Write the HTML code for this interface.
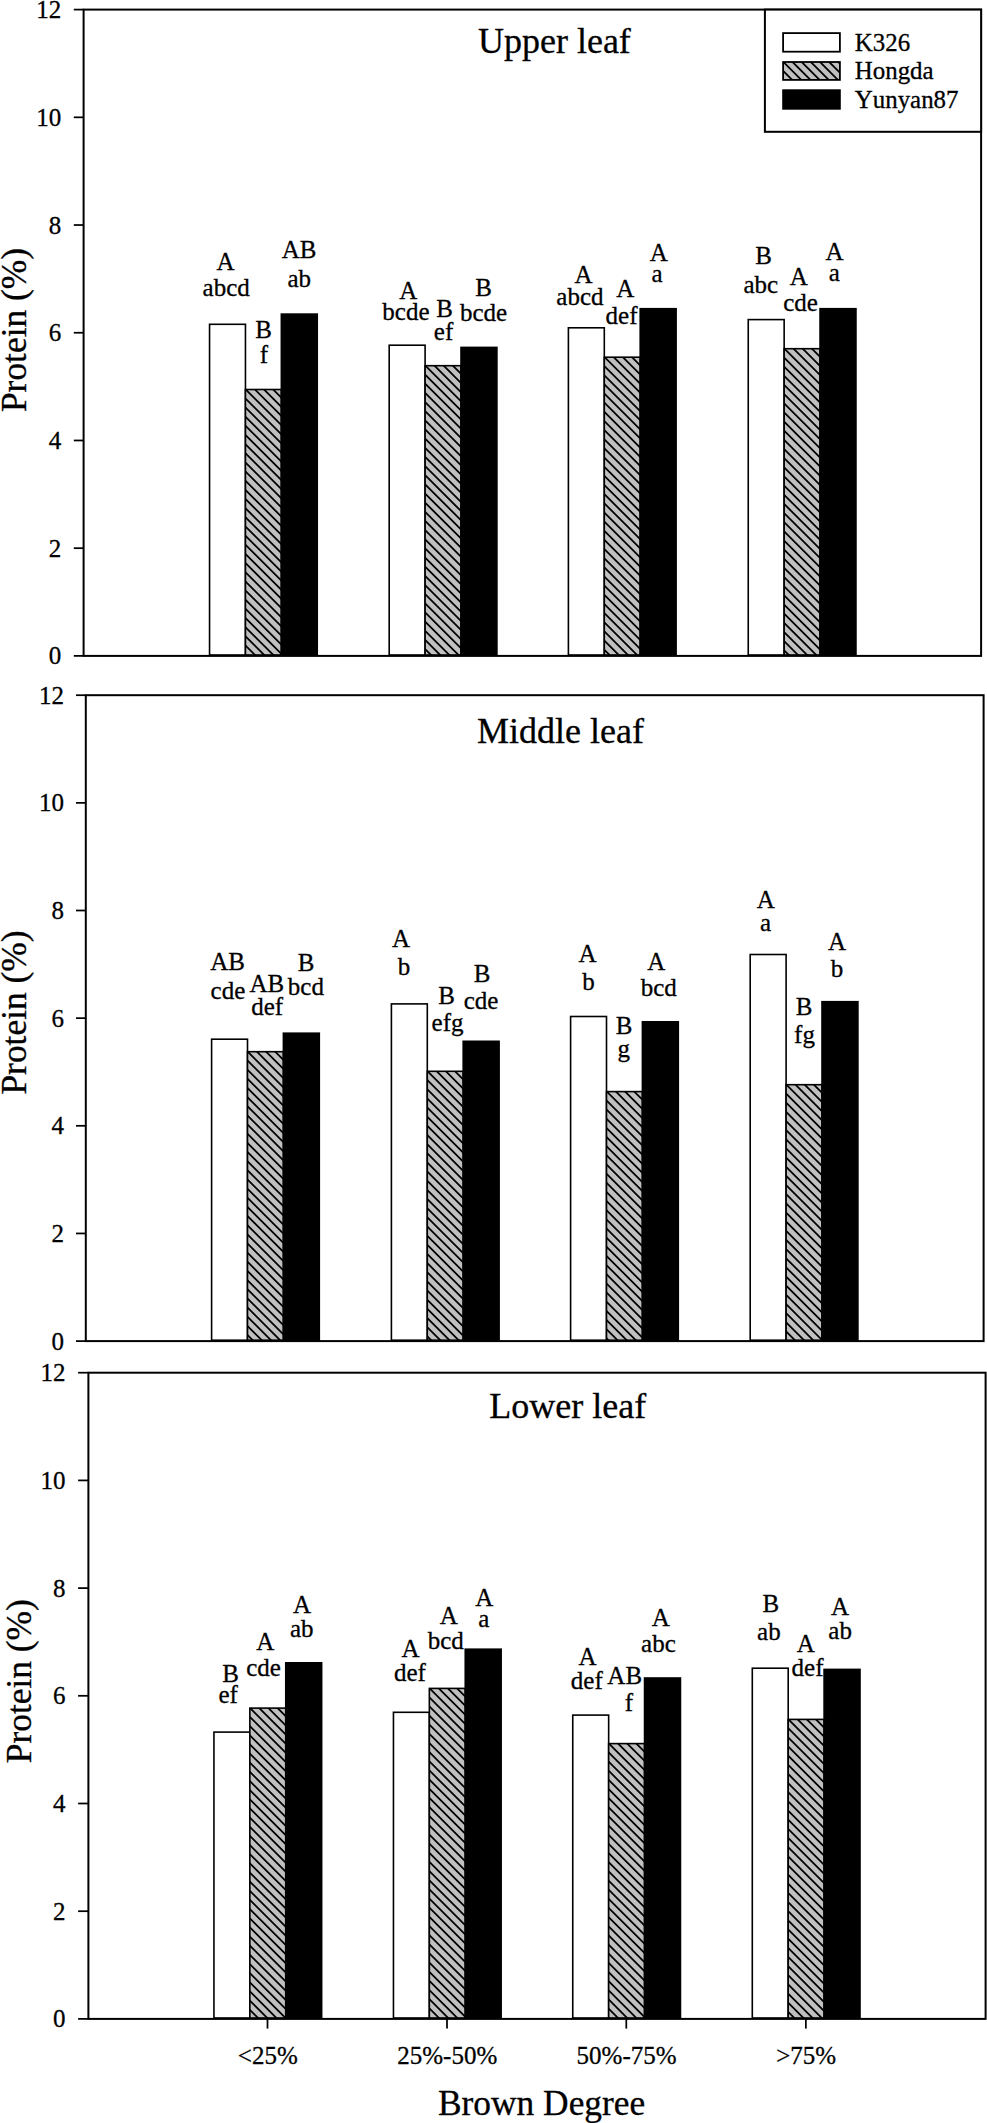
<!DOCTYPE html>
<html lang="en"><head><meta charset="utf-8"><title>Protein content by brown degree</title>
<style>html,body{margin:0;padding:0;background:#fff}svg{display:block}</style></head>
<body>
<svg width="987" height="2123" viewBox="0 0 987 2123" font-family='"Liberation Serif", serif' fill="#000">
<style>text{stroke:#000;stroke-width:0.3px;font-kerning:none}</style>
<rect width="987" height="2123" fill="#fff"/>
<rect x="209.55" y="324.30" width="35.90" height="330.70" fill="#fff" stroke="#000" stroke-width="1.6"/>
<svg x="245.45" y="389.50" width="35.90" height="265.50" overflow="hidden"><rect width="35.90" height="265.50" fill="#c0c0c0"/><path d="M-3,-39.90L38.90,2.00M-3,-30.75L38.90,11.15M-3,-21.60L38.90,20.30M-3,-12.45L38.90,29.45M-3,-3.30L38.90,38.60M-3,5.85L38.90,47.75M-3,15.00L38.90,56.90M-3,24.15L38.90,66.05M-3,33.30L38.90,75.20M-3,42.45L38.90,84.35M-3,51.60L38.90,93.50M-3,60.75L38.90,102.65M-3,69.90L38.90,111.80M-3,79.05L38.90,120.95M-3,88.20L38.90,130.10M-3,97.35L38.90,139.25M-3,106.50L38.90,148.40M-3,115.65L38.90,157.55M-3,124.80L38.90,166.70M-3,133.95L38.90,175.85M-3,143.10L38.90,185.00M-3,152.25L38.90,194.15M-3,161.40L38.90,203.30M-3,170.55L38.90,212.45M-3,179.70L38.90,221.60M-3,188.85L38.90,230.75M-3,198.00L38.90,239.90M-3,207.15L38.90,249.05M-3,216.30L38.90,258.20M-3,225.45L38.90,267.35M-3,234.60L38.90,276.50M-3,243.75L38.90,285.65M-3,252.90L38.90,294.80M-3,262.05L38.90,303.95" stroke="#000" stroke-width="1.8" fill="none"/></svg><rect x="245.45" y="389.50" width="35.90" height="265.50" fill="none" stroke="#000" stroke-width="1.6"/>
<rect x="281.35" y="314.10" width="35.90" height="340.90" fill="#000" stroke="#000" stroke-width="1.6"/>
<rect x="389.20" y="345.20" width="35.90" height="309.80" fill="#fff" stroke="#000" stroke-width="1.6"/>
<svg x="425.10" y="365.70" width="35.90" height="289.30" overflow="hidden"><rect width="35.90" height="289.30" fill="#c0c0c0"/><path d="M-3,-39.90L38.90,2.00M-3,-30.75L38.90,11.15M-3,-21.60L38.90,20.30M-3,-12.45L38.90,29.45M-3,-3.30L38.90,38.60M-3,5.85L38.90,47.75M-3,15.00L38.90,56.90M-3,24.15L38.90,66.05M-3,33.30L38.90,75.20M-3,42.45L38.90,84.35M-3,51.60L38.90,93.50M-3,60.75L38.90,102.65M-3,69.90L38.90,111.80M-3,79.05L38.90,120.95M-3,88.20L38.90,130.10M-3,97.35L38.90,139.25M-3,106.50L38.90,148.40M-3,115.65L38.90,157.55M-3,124.80L38.90,166.70M-3,133.95L38.90,175.85M-3,143.10L38.90,185.00M-3,152.25L38.90,194.15M-3,161.40L38.90,203.30M-3,170.55L38.90,212.45M-3,179.70L38.90,221.60M-3,188.85L38.90,230.75M-3,198.00L38.90,239.90M-3,207.15L38.90,249.05M-3,216.30L38.90,258.20M-3,225.45L38.90,267.35M-3,234.60L38.90,276.50M-3,243.75L38.90,285.65M-3,252.90L38.90,294.80M-3,262.05L38.90,303.95M-3,271.20L38.90,313.10M-3,280.35L38.90,322.25" stroke="#000" stroke-width="1.8" fill="none"/></svg><rect x="425.10" y="365.70" width="35.90" height="289.30" fill="none" stroke="#000" stroke-width="1.6"/>
<rect x="461.00" y="347.40" width="35.90" height="307.60" fill="#000" stroke="#000" stroke-width="1.6"/>
<rect x="568.40" y="327.80" width="35.90" height="327.20" fill="#fff" stroke="#000" stroke-width="1.6"/>
<svg x="604.30" y="357.20" width="35.90" height="297.80" overflow="hidden"><rect width="35.90" height="297.80" fill="#c0c0c0"/><path d="M-3,-39.90L38.90,2.00M-3,-30.75L38.90,11.15M-3,-21.60L38.90,20.30M-3,-12.45L38.90,29.45M-3,-3.30L38.90,38.60M-3,5.85L38.90,47.75M-3,15.00L38.90,56.90M-3,24.15L38.90,66.05M-3,33.30L38.90,75.20M-3,42.45L38.90,84.35M-3,51.60L38.90,93.50M-3,60.75L38.90,102.65M-3,69.90L38.90,111.80M-3,79.05L38.90,120.95M-3,88.20L38.90,130.10M-3,97.35L38.90,139.25M-3,106.50L38.90,148.40M-3,115.65L38.90,157.55M-3,124.80L38.90,166.70M-3,133.95L38.90,175.85M-3,143.10L38.90,185.00M-3,152.25L38.90,194.15M-3,161.40L38.90,203.30M-3,170.55L38.90,212.45M-3,179.70L38.90,221.60M-3,188.85L38.90,230.75M-3,198.00L38.90,239.90M-3,207.15L38.90,249.05M-3,216.30L38.90,258.20M-3,225.45L38.90,267.35M-3,234.60L38.90,276.50M-3,243.75L38.90,285.65M-3,252.90L38.90,294.80M-3,262.05L38.90,303.95M-3,271.20L38.90,313.10M-3,280.35L38.90,322.25M-3,289.50L38.90,331.40" stroke="#000" stroke-width="1.8" fill="none"/></svg><rect x="604.30" y="357.20" width="35.90" height="297.80" fill="none" stroke="#000" stroke-width="1.6"/>
<rect x="640.20" y="308.70" width="35.90" height="346.30" fill="#000" stroke="#000" stroke-width="1.6"/>
<rect x="748.25" y="319.60" width="35.90" height="335.40" fill="#fff" stroke="#000" stroke-width="1.6"/>
<svg x="784.15" y="348.70" width="35.90" height="306.30" overflow="hidden"><rect width="35.90" height="306.30" fill="#c0c0c0"/><path d="M-3,-39.90L38.90,2.00M-3,-30.75L38.90,11.15M-3,-21.60L38.90,20.30M-3,-12.45L38.90,29.45M-3,-3.30L38.90,38.60M-3,5.85L38.90,47.75M-3,15.00L38.90,56.90M-3,24.15L38.90,66.05M-3,33.30L38.90,75.20M-3,42.45L38.90,84.35M-3,51.60L38.90,93.50M-3,60.75L38.90,102.65M-3,69.90L38.90,111.80M-3,79.05L38.90,120.95M-3,88.20L38.90,130.10M-3,97.35L38.90,139.25M-3,106.50L38.90,148.40M-3,115.65L38.90,157.55M-3,124.80L38.90,166.70M-3,133.95L38.90,175.85M-3,143.10L38.90,185.00M-3,152.25L38.90,194.15M-3,161.40L38.90,203.30M-3,170.55L38.90,212.45M-3,179.70L38.90,221.60M-3,188.85L38.90,230.75M-3,198.00L38.90,239.90M-3,207.15L38.90,249.05M-3,216.30L38.90,258.20M-3,225.45L38.90,267.35M-3,234.60L38.90,276.50M-3,243.75L38.90,285.65M-3,252.90L38.90,294.80M-3,262.05L38.90,303.95M-3,271.20L38.90,313.10M-3,280.35L38.90,322.25M-3,289.50L38.90,331.40M-3,298.65L38.90,340.55" stroke="#000" stroke-width="1.8" fill="none"/></svg><rect x="784.15" y="348.70" width="35.90" height="306.30" fill="none" stroke="#000" stroke-width="1.6"/>
<rect x="820.05" y="308.70" width="35.90" height="346.30" fill="#000" stroke="#000" stroke-width="1.6"/>
<rect x="83.6" y="9.6" width="897.50" height="646.30" fill="none" stroke="#000" stroke-width="2.0"/>
<line x1="73.8" y1="655.90" x2="83.6" y2="655.90" stroke="#000" stroke-width="1.75"/>
<text x="61.3" y="664.40" font-size="25" text-anchor="end">0</text>
<line x1="73.8" y1="548.18" x2="83.6" y2="548.18" stroke="#000" stroke-width="1.75"/>
<text x="61.3" y="556.68" font-size="25" text-anchor="end">2</text>
<line x1="73.8" y1="440.47" x2="83.6" y2="440.47" stroke="#000" stroke-width="1.75"/>
<text x="61.3" y="448.97" font-size="25" text-anchor="end">4</text>
<line x1="73.8" y1="332.75" x2="83.6" y2="332.75" stroke="#000" stroke-width="1.75"/>
<text x="61.3" y="341.25" font-size="25" text-anchor="end">6</text>
<line x1="73.8" y1="225.03" x2="83.6" y2="225.03" stroke="#000" stroke-width="1.75"/>
<text x="61.3" y="233.53" font-size="25" text-anchor="end">8</text>
<line x1="73.8" y1="117.32" x2="83.6" y2="117.32" stroke="#000" stroke-width="1.75"/>
<text x="61.3" y="125.82" font-size="25" text-anchor="end">10</text>
<line x1="73.8" y1="9.60" x2="83.6" y2="9.60" stroke="#000" stroke-width="1.75"/>
<text x="61.3" y="18.10" font-size="25" text-anchor="end">12</text>
<text x="554.4" y="53.0" font-size="36" text-anchor="middle">Upper leaf</text>
<text transform="translate(25.9,330.0) rotate(-90)" font-size="35.4" text-anchor="middle">Protein (%)</text>
<rect x="211.60" y="1039.20" width="35.90" height="301.00" fill="#fff" stroke="#000" stroke-width="1.6"/>
<svg x="247.50" y="1051.70" width="35.90" height="288.50" overflow="hidden"><rect width="35.90" height="288.50" fill="#c0c0c0"/><path d="M-3,-39.90L38.90,2.00M-3,-30.75L38.90,11.15M-3,-21.60L38.90,20.30M-3,-12.45L38.90,29.45M-3,-3.30L38.90,38.60M-3,5.85L38.90,47.75M-3,15.00L38.90,56.90M-3,24.15L38.90,66.05M-3,33.30L38.90,75.20M-3,42.45L38.90,84.35M-3,51.60L38.90,93.50M-3,60.75L38.90,102.65M-3,69.90L38.90,111.80M-3,79.05L38.90,120.95M-3,88.20L38.90,130.10M-3,97.35L38.90,139.25M-3,106.50L38.90,148.40M-3,115.65L38.90,157.55M-3,124.80L38.90,166.70M-3,133.95L38.90,175.85M-3,143.10L38.90,185.00M-3,152.25L38.90,194.15M-3,161.40L38.90,203.30M-3,170.55L38.90,212.45M-3,179.70L38.90,221.60M-3,188.85L38.90,230.75M-3,198.00L38.90,239.90M-3,207.15L38.90,249.05M-3,216.30L38.90,258.20M-3,225.45L38.90,267.35M-3,234.60L38.90,276.50M-3,243.75L38.90,285.65M-3,252.90L38.90,294.80M-3,262.05L38.90,303.95M-3,271.20L38.90,313.10M-3,280.35L38.90,322.25" stroke="#000" stroke-width="1.8" fill="none"/></svg><rect x="247.50" y="1051.70" width="35.90" height="288.50" fill="none" stroke="#000" stroke-width="1.6"/>
<rect x="283.40" y="1033.20" width="35.90" height="307.00" fill="#000" stroke="#000" stroke-width="1.6"/>
<rect x="391.40" y="1003.90" width="35.90" height="336.30" fill="#fff" stroke="#000" stroke-width="1.6"/>
<svg x="427.30" y="1071.30" width="35.90" height="268.90" overflow="hidden"><rect width="35.90" height="268.90" fill="#c0c0c0"/><path d="M-3,-39.90L38.90,2.00M-3,-30.75L38.90,11.15M-3,-21.60L38.90,20.30M-3,-12.45L38.90,29.45M-3,-3.30L38.90,38.60M-3,5.85L38.90,47.75M-3,15.00L38.90,56.90M-3,24.15L38.90,66.05M-3,33.30L38.90,75.20M-3,42.45L38.90,84.35M-3,51.60L38.90,93.50M-3,60.75L38.90,102.65M-3,69.90L38.90,111.80M-3,79.05L38.90,120.95M-3,88.20L38.90,130.10M-3,97.35L38.90,139.25M-3,106.50L38.90,148.40M-3,115.65L38.90,157.55M-3,124.80L38.90,166.70M-3,133.95L38.90,175.85M-3,143.10L38.90,185.00M-3,152.25L38.90,194.15M-3,161.40L38.90,203.30M-3,170.55L38.90,212.45M-3,179.70L38.90,221.60M-3,188.85L38.90,230.75M-3,198.00L38.90,239.90M-3,207.15L38.90,249.05M-3,216.30L38.90,258.20M-3,225.45L38.90,267.35M-3,234.60L38.90,276.50M-3,243.75L38.90,285.65M-3,252.90L38.90,294.80M-3,262.05L38.90,303.95" stroke="#000" stroke-width="1.8" fill="none"/></svg><rect x="427.30" y="1071.30" width="35.90" height="268.90" fill="none" stroke="#000" stroke-width="1.6"/>
<rect x="463.20" y="1041.30" width="35.90" height="298.90" fill="#000" stroke="#000" stroke-width="1.6"/>
<rect x="570.60" y="1016.50" width="35.90" height="323.70" fill="#fff" stroke="#000" stroke-width="1.6"/>
<svg x="606.50" y="1091.60" width="35.90" height="248.60" overflow="hidden"><rect width="35.90" height="248.60" fill="#c0c0c0"/><path d="M-3,-39.90L38.90,2.00M-3,-30.75L38.90,11.15M-3,-21.60L38.90,20.30M-3,-12.45L38.90,29.45M-3,-3.30L38.90,38.60M-3,5.85L38.90,47.75M-3,15.00L38.90,56.90M-3,24.15L38.90,66.05M-3,33.30L38.90,75.20M-3,42.45L38.90,84.35M-3,51.60L38.90,93.50M-3,60.75L38.90,102.65M-3,69.90L38.90,111.80M-3,79.05L38.90,120.95M-3,88.20L38.90,130.10M-3,97.35L38.90,139.25M-3,106.50L38.90,148.40M-3,115.65L38.90,157.55M-3,124.80L38.90,166.70M-3,133.95L38.90,175.85M-3,143.10L38.90,185.00M-3,152.25L38.90,194.15M-3,161.40L38.90,203.30M-3,170.55L38.90,212.45M-3,179.70L38.90,221.60M-3,188.85L38.90,230.75M-3,198.00L38.90,239.90M-3,207.15L38.90,249.05M-3,216.30L38.90,258.20M-3,225.45L38.90,267.35M-3,234.60L38.90,276.50M-3,243.75L38.90,285.65" stroke="#000" stroke-width="1.8" fill="none"/></svg><rect x="606.50" y="1091.60" width="35.90" height="248.60" fill="none" stroke="#000" stroke-width="1.6"/>
<rect x="642.40" y="1021.80" width="35.90" height="318.40" fill="#000" stroke="#000" stroke-width="1.6"/>
<rect x="750.20" y="954.50" width="35.90" height="385.70" fill="#fff" stroke="#000" stroke-width="1.6"/>
<svg x="786.10" y="1084.70" width="35.90" height="255.50" overflow="hidden"><rect width="35.90" height="255.50" fill="#c0c0c0"/><path d="M-3,-39.90L38.90,2.00M-3,-30.75L38.90,11.15M-3,-21.60L38.90,20.30M-3,-12.45L38.90,29.45M-3,-3.30L38.90,38.60M-3,5.85L38.90,47.75M-3,15.00L38.90,56.90M-3,24.15L38.90,66.05M-3,33.30L38.90,75.20M-3,42.45L38.90,84.35M-3,51.60L38.90,93.50M-3,60.75L38.90,102.65M-3,69.90L38.90,111.80M-3,79.05L38.90,120.95M-3,88.20L38.90,130.10M-3,97.35L38.90,139.25M-3,106.50L38.90,148.40M-3,115.65L38.90,157.55M-3,124.80L38.90,166.70M-3,133.95L38.90,175.85M-3,143.10L38.90,185.00M-3,152.25L38.90,194.15M-3,161.40L38.90,203.30M-3,170.55L38.90,212.45M-3,179.70L38.90,221.60M-3,188.85L38.90,230.75M-3,198.00L38.90,239.90M-3,207.15L38.90,249.05M-3,216.30L38.90,258.20M-3,225.45L38.90,267.35M-3,234.60L38.90,276.50M-3,243.75L38.90,285.65M-3,252.90L38.90,294.80" stroke="#000" stroke-width="1.8" fill="none"/></svg><rect x="786.10" y="1084.70" width="35.90" height="255.50" fill="none" stroke="#000" stroke-width="1.6"/>
<rect x="822.00" y="1001.70" width="35.90" height="338.50" fill="#000" stroke="#000" stroke-width="1.6"/>
<rect x="85.8" y="695.2" width="897.80" height="645.90" fill="none" stroke="#000" stroke-width="2.0"/>
<line x1="76.0" y1="1341.10" x2="85.8" y2="1341.10" stroke="#000" stroke-width="1.75"/>
<text x="63.9" y="1349.60" font-size="25" text-anchor="end">0</text>
<line x1="76.0" y1="1233.45" x2="85.8" y2="1233.45" stroke="#000" stroke-width="1.75"/>
<text x="63.9" y="1241.95" font-size="25" text-anchor="end">2</text>
<line x1="76.0" y1="1125.80" x2="85.8" y2="1125.80" stroke="#000" stroke-width="1.75"/>
<text x="63.9" y="1134.30" font-size="25" text-anchor="end">4</text>
<line x1="76.0" y1="1018.15" x2="85.8" y2="1018.15" stroke="#000" stroke-width="1.75"/>
<text x="63.9" y="1026.65" font-size="25" text-anchor="end">6</text>
<line x1="76.0" y1="910.50" x2="85.8" y2="910.50" stroke="#000" stroke-width="1.75"/>
<text x="63.9" y="919.00" font-size="25" text-anchor="end">8</text>
<line x1="76.0" y1="802.85" x2="85.8" y2="802.85" stroke="#000" stroke-width="1.75"/>
<text x="63.9" y="811.35" font-size="25" text-anchor="end">10</text>
<line x1="76.0" y1="695.20" x2="85.8" y2="695.20" stroke="#000" stroke-width="1.75"/>
<text x="63.9" y="703.70" font-size="25" text-anchor="end">12</text>
<text x="560.6" y="743.0" font-size="36" text-anchor="middle">Middle leaf</text>
<text transform="translate(25.9,1012.5) rotate(-90)" font-size="35.4" text-anchor="middle">Protein (%)</text>
<rect x="213.95" y="1732.10" width="35.90" height="285.90" fill="#fff" stroke="#000" stroke-width="1.6"/>
<svg x="249.85" y="1708.10" width="35.90" height="309.90" overflow="hidden"><rect width="35.90" height="309.90" fill="#c0c0c0"/><path d="M-3,-39.90L38.90,2.00M-3,-30.75L38.90,11.15M-3,-21.60L38.90,20.30M-3,-12.45L38.90,29.45M-3,-3.30L38.90,38.60M-3,5.85L38.90,47.75M-3,15.00L38.90,56.90M-3,24.15L38.90,66.05M-3,33.30L38.90,75.20M-3,42.45L38.90,84.35M-3,51.60L38.90,93.50M-3,60.75L38.90,102.65M-3,69.90L38.90,111.80M-3,79.05L38.90,120.95M-3,88.20L38.90,130.10M-3,97.35L38.90,139.25M-3,106.50L38.90,148.40M-3,115.65L38.90,157.55M-3,124.80L38.90,166.70M-3,133.95L38.90,175.85M-3,143.10L38.90,185.00M-3,152.25L38.90,194.15M-3,161.40L38.90,203.30M-3,170.55L38.90,212.45M-3,179.70L38.90,221.60M-3,188.85L38.90,230.75M-3,198.00L38.90,239.90M-3,207.15L38.90,249.05M-3,216.30L38.90,258.20M-3,225.45L38.90,267.35M-3,234.60L38.90,276.50M-3,243.75L38.90,285.65M-3,252.90L38.90,294.80M-3,262.05L38.90,303.95M-3,271.20L38.90,313.10M-3,280.35L38.90,322.25M-3,289.50L38.90,331.40M-3,298.65L38.90,340.55M-3,307.80L38.90,349.70" stroke="#000" stroke-width="1.8" fill="none"/></svg><rect x="249.85" y="1708.10" width="35.90" height="309.90" fill="none" stroke="#000" stroke-width="1.6"/>
<rect x="285.75" y="1662.80" width="35.90" height="355.20" fill="#000" stroke="#000" stroke-width="1.6"/>
<rect x="393.45" y="1712.30" width="35.90" height="305.70" fill="#fff" stroke="#000" stroke-width="1.6"/>
<svg x="429.35" y="1688.40" width="35.90" height="329.60" overflow="hidden"><rect width="35.90" height="329.60" fill="#c0c0c0"/><path d="M-3,-39.90L38.90,2.00M-3,-30.75L38.90,11.15M-3,-21.60L38.90,20.30M-3,-12.45L38.90,29.45M-3,-3.30L38.90,38.60M-3,5.85L38.90,47.75M-3,15.00L38.90,56.90M-3,24.15L38.90,66.05M-3,33.30L38.90,75.20M-3,42.45L38.90,84.35M-3,51.60L38.90,93.50M-3,60.75L38.90,102.65M-3,69.90L38.90,111.80M-3,79.05L38.90,120.95M-3,88.20L38.90,130.10M-3,97.35L38.90,139.25M-3,106.50L38.90,148.40M-3,115.65L38.90,157.55M-3,124.80L38.90,166.70M-3,133.95L38.90,175.85M-3,143.10L38.90,185.00M-3,152.25L38.90,194.15M-3,161.40L38.90,203.30M-3,170.55L38.90,212.45M-3,179.70L38.90,221.60M-3,188.85L38.90,230.75M-3,198.00L38.90,239.90M-3,207.15L38.90,249.05M-3,216.30L38.90,258.20M-3,225.45L38.90,267.35M-3,234.60L38.90,276.50M-3,243.75L38.90,285.65M-3,252.90L38.90,294.80M-3,262.05L38.90,303.95M-3,271.20L38.90,313.10M-3,280.35L38.90,322.25M-3,289.50L38.90,331.40M-3,298.65L38.90,340.55M-3,307.80L38.90,349.70M-3,316.95L38.90,358.85M-3,326.10L38.90,368.00" stroke="#000" stroke-width="1.8" fill="none"/></svg><rect x="429.35" y="1688.40" width="35.90" height="329.60" fill="none" stroke="#000" stroke-width="1.6"/>
<rect x="465.25" y="1649.20" width="35.90" height="368.80" fill="#000" stroke="#000" stroke-width="1.6"/>
<rect x="572.75" y="1715.10" width="35.90" height="302.90" fill="#fff" stroke="#000" stroke-width="1.6"/>
<svg x="608.65" y="1743.60" width="35.90" height="274.40" overflow="hidden"><rect width="35.90" height="274.40" fill="#c0c0c0"/><path d="M-3,-39.90L38.90,2.00M-3,-30.75L38.90,11.15M-3,-21.60L38.90,20.30M-3,-12.45L38.90,29.45M-3,-3.30L38.90,38.60M-3,5.85L38.90,47.75M-3,15.00L38.90,56.90M-3,24.15L38.90,66.05M-3,33.30L38.90,75.20M-3,42.45L38.90,84.35M-3,51.60L38.90,93.50M-3,60.75L38.90,102.65M-3,69.90L38.90,111.80M-3,79.05L38.90,120.95M-3,88.20L38.90,130.10M-3,97.35L38.90,139.25M-3,106.50L38.90,148.40M-3,115.65L38.90,157.55M-3,124.80L38.90,166.70M-3,133.95L38.90,175.85M-3,143.10L38.90,185.00M-3,152.25L38.90,194.15M-3,161.40L38.90,203.30M-3,170.55L38.90,212.45M-3,179.70L38.90,221.60M-3,188.85L38.90,230.75M-3,198.00L38.90,239.90M-3,207.15L38.90,249.05M-3,216.30L38.90,258.20M-3,225.45L38.90,267.35M-3,234.60L38.90,276.50M-3,243.75L38.90,285.65M-3,252.90L38.90,294.80M-3,262.05L38.90,303.95M-3,271.20L38.90,313.10" stroke="#000" stroke-width="1.8" fill="none"/></svg><rect x="608.65" y="1743.60" width="35.90" height="274.40" fill="none" stroke="#000" stroke-width="1.6"/>
<rect x="644.55" y="1678.00" width="35.90" height="340.00" fill="#000" stroke="#000" stroke-width="1.6"/>
<rect x="752.30" y="1668.20" width="35.90" height="349.80" fill="#fff" stroke="#000" stroke-width="1.6"/>
<svg x="788.20" y="1719.40" width="35.90" height="298.60" overflow="hidden"><rect width="35.90" height="298.60" fill="#c0c0c0"/><path d="M-3,-39.90L38.90,2.00M-3,-30.75L38.90,11.15M-3,-21.60L38.90,20.30M-3,-12.45L38.90,29.45M-3,-3.30L38.90,38.60M-3,5.85L38.90,47.75M-3,15.00L38.90,56.90M-3,24.15L38.90,66.05M-3,33.30L38.90,75.20M-3,42.45L38.90,84.35M-3,51.60L38.90,93.50M-3,60.75L38.90,102.65M-3,69.90L38.90,111.80M-3,79.05L38.90,120.95M-3,88.20L38.90,130.10M-3,97.35L38.90,139.25M-3,106.50L38.90,148.40M-3,115.65L38.90,157.55M-3,124.80L38.90,166.70M-3,133.95L38.90,175.85M-3,143.10L38.90,185.00M-3,152.25L38.90,194.15M-3,161.40L38.90,203.30M-3,170.55L38.90,212.45M-3,179.70L38.90,221.60M-3,188.85L38.90,230.75M-3,198.00L38.90,239.90M-3,207.15L38.90,249.05M-3,216.30L38.90,258.20M-3,225.45L38.90,267.35M-3,234.60L38.90,276.50M-3,243.75L38.90,285.65M-3,252.90L38.90,294.80M-3,262.05L38.90,303.95M-3,271.20L38.90,313.10M-3,280.35L38.90,322.25M-3,289.50L38.90,331.40" stroke="#000" stroke-width="1.8" fill="none"/></svg><rect x="788.20" y="1719.40" width="35.90" height="298.60" fill="none" stroke="#000" stroke-width="1.6"/>
<rect x="824.10" y="1669.40" width="35.90" height="348.60" fill="#000" stroke="#000" stroke-width="1.6"/>
<rect x="88.4" y="1372.7" width="897.20" height="646.20" fill="none" stroke="#000" stroke-width="2.0"/>
<line x1="78.1" y1="2018.90" x2="88.4" y2="2018.90" stroke="#000" stroke-width="1.75"/>
<text x="65.6" y="2027.40" font-size="25" text-anchor="end">0</text>
<line x1="78.1" y1="1911.20" x2="88.4" y2="1911.20" stroke="#000" stroke-width="1.75"/>
<text x="65.6" y="1919.70" font-size="25" text-anchor="end">2</text>
<line x1="78.1" y1="1803.50" x2="88.4" y2="1803.50" stroke="#000" stroke-width="1.75"/>
<text x="65.6" y="1812.00" font-size="25" text-anchor="end">4</text>
<line x1="78.1" y1="1695.80" x2="88.4" y2="1695.80" stroke="#000" stroke-width="1.75"/>
<text x="65.6" y="1704.30" font-size="25" text-anchor="end">6</text>
<line x1="78.1" y1="1588.10" x2="88.4" y2="1588.10" stroke="#000" stroke-width="1.75"/>
<text x="65.6" y="1596.60" font-size="25" text-anchor="end">8</text>
<line x1="78.1" y1="1480.40" x2="88.4" y2="1480.40" stroke="#000" stroke-width="1.75"/>
<text x="65.6" y="1488.90" font-size="25" text-anchor="end">10</text>
<line x1="78.1" y1="1372.70" x2="88.4" y2="1372.70" stroke="#000" stroke-width="1.75"/>
<text x="65.6" y="1381.20" font-size="25" text-anchor="end">12</text>
<text x="567.7" y="1417.6" font-size="36" text-anchor="middle">Lower leaf</text>
<text transform="translate(31.0,1681.2) rotate(-90)" font-size="35.4" text-anchor="middle">Protein (%)</text>
<text x="225.5" y="269.7" font-size="25" text-anchor="middle">A</text>
<text x="226.2" y="296.0" font-size="25" text-anchor="middle">abcd</text>
<text x="263.5" y="337.8" font-size="25" text-anchor="middle">B</text>
<text x="264.0" y="363.3" font-size="25" text-anchor="middle">f</text>
<text x="299.0" y="258.4" font-size="25" text-anchor="middle">AB</text>
<text x="299.3" y="287.2" font-size="25" text-anchor="middle">ab</text>
<text x="408.3" y="298.9" font-size="25" text-anchor="middle">A</text>
<text x="405.9" y="320.2" font-size="25" text-anchor="middle">bcde</text>
<text x="444.5" y="316.7" font-size="25" text-anchor="middle">B</text>
<text x="443.5" y="340.1" font-size="25" text-anchor="middle">ef</text>
<text x="483.5" y="295.7" font-size="25" text-anchor="middle">B</text>
<text x="483.5" y="320.5" font-size="25" text-anchor="middle">bcde</text>
<text x="583.5" y="282.8" font-size="25" text-anchor="middle">A</text>
<text x="579.9" y="304.8" font-size="25" text-anchor="middle">abcd</text>
<text x="625.2" y="297.4" font-size="25" text-anchor="middle">A</text>
<text x="621.5" y="323.9" font-size="25" text-anchor="middle">def</text>
<text x="658.8" y="261.2" font-size="25" text-anchor="middle">A</text>
<text x="657.0" y="281.8" font-size="25" text-anchor="middle">a</text>
<text x="763.5" y="264.0" font-size="25" text-anchor="middle">B</text>
<text x="760.8" y="292.7" font-size="25" text-anchor="middle">abc</text>
<text x="798.7" y="285.3" font-size="25" text-anchor="middle">A</text>
<text x="800.5" y="310.6" font-size="25" text-anchor="middle">cde</text>
<text x="834.6" y="260.2" font-size="25" text-anchor="middle">A</text>
<text x="834.4" y="280.8" font-size="25" text-anchor="middle">a</text>
<text x="227.5" y="970.1" font-size="25" text-anchor="middle">AB</text>
<text x="227.9" y="998.5" font-size="25" text-anchor="middle">cde</text>
<text x="266.9" y="992.4" font-size="25" text-anchor="middle">AB</text>
<text x="267.2" y="1015.1" font-size="25" text-anchor="middle">def</text>
<text x="306.2" y="971.1" font-size="25" text-anchor="middle">B</text>
<text x="305.9" y="994.5" font-size="25" text-anchor="middle">bcd</text>
<text x="401.1" y="946.9" font-size="25" text-anchor="middle">A</text>
<text x="404.0" y="975.2" font-size="25" text-anchor="middle">b</text>
<text x="446.5" y="1004.3" font-size="25" text-anchor="middle">B</text>
<text x="447.5" y="1031.3" font-size="25" text-anchor="middle">efg</text>
<text x="482.0" y="982.3" font-size="25" text-anchor="middle">B</text>
<text x="481.0" y="1008.9" font-size="25" text-anchor="middle">cde</text>
<text x="587.5" y="962.1" font-size="25" text-anchor="middle">A</text>
<text x="588.6" y="989.5" font-size="25" text-anchor="middle">b</text>
<text x="624.1" y="1034.2" font-size="25" text-anchor="middle">B</text>
<text x="623.7" y="1057.0" font-size="25" text-anchor="middle">g</text>
<text x="656.3" y="970.1" font-size="25" text-anchor="middle">A</text>
<text x="658.8" y="996.2" font-size="25" text-anchor="middle">bcd</text>
<text x="765.8" y="908.1" font-size="25" text-anchor="middle">A</text>
<text x="765.5" y="931.1" font-size="25" text-anchor="middle">a</text>
<text x="804.1" y="1014.5" font-size="25" text-anchor="middle">B</text>
<text x="804.5" y="1042.8" font-size="25" text-anchor="middle">fg</text>
<text x="837.0" y="950.2" font-size="25" text-anchor="middle">A</text>
<text x="837.0" y="977.4" font-size="25" text-anchor="middle">b</text>
<text x="230.5" y="1682.4" font-size="25" text-anchor="middle">B</text>
<text x="228.1" y="1703.1" font-size="25" text-anchor="middle">ef</text>
<text x="265.4" y="1649.5" font-size="25" text-anchor="middle">A</text>
<text x="263.5" y="1675.5" font-size="25" text-anchor="middle">cde</text>
<text x="302.1" y="1612.9" font-size="25" text-anchor="middle">A</text>
<text x="301.8" y="1637.4" font-size="25" text-anchor="middle">ab</text>
<text x="410.6" y="1656.5" font-size="25" text-anchor="middle">A</text>
<text x="409.9" y="1681.3" font-size="25" text-anchor="middle">def</text>
<text x="448.9" y="1623.9" font-size="25" text-anchor="middle">A</text>
<text x="445.7" y="1649.4" font-size="25" text-anchor="middle">bcd</text>
<text x="484.4" y="1606.2" font-size="25" text-anchor="middle">A</text>
<text x="483.7" y="1626.5" font-size="25" text-anchor="middle">a</text>
<text x="587.5" y="1664.5" font-size="25" text-anchor="middle">A</text>
<text x="586.8" y="1689.3" font-size="25" text-anchor="middle">def</text>
<text x="624.7" y="1683.6" font-size="25" text-anchor="middle">AB</text>
<text x="628.9" y="1711.3" font-size="25" text-anchor="middle">f</text>
<text x="660.8" y="1626.2" font-size="25" text-anchor="middle">A</text>
<text x="658.4" y="1652.4" font-size="25" text-anchor="middle">abc</text>
<text x="770.9" y="1612.1" font-size="25" text-anchor="middle">B</text>
<text x="768.9" y="1639.5" font-size="25" text-anchor="middle">ab</text>
<text x="805.8" y="1652.3" font-size="25" text-anchor="middle">A</text>
<text x="807.5" y="1675.7" font-size="25" text-anchor="middle">def</text>
<text x="840.1" y="1614.7" font-size="25" text-anchor="middle">A</text>
<text x="840.1" y="1638.5" font-size="25" text-anchor="middle">ab</text>
<rect x="764.9" y="9.6" width="216.20" height="122.20" fill="#fff" stroke="#000" stroke-width="2.0"/>
<rect x="783.1" y="33.10" width="56.8" height="18.60" fill="#fff" stroke="#000" stroke-width="1.8"/>
<text x="854.8" y="50.8" font-size="24.9">K326</text>
<svg x="783.10" y="62.00" width="56.80" height="17.90" overflow="hidden"><rect width="56.80" height="17.90" fill="#c0c0c0"/><path d="M-3,-58.20L59.80,4.60M-3,-49.05L59.80,13.75M-3,-39.90L59.80,22.90M-3,-30.75L59.80,32.05M-3,-21.60L59.80,41.20M-3,-12.45L59.80,50.35M-3,-3.30L59.80,59.50M-3,5.85L59.80,68.65M-3,15.00L59.80,77.80" stroke="#000" stroke-width="1.8" fill="none"/></svg><rect x="783.10" y="62.00" width="56.80" height="17.90" fill="none" stroke="#000" stroke-width="1.8"/>
<text x="854.8" y="79.1" font-size="24.9">Hongda</text>
<rect x="783.1" y="90.20" width="56.8" height="18.60" fill="#000" stroke="#000" stroke-width="1.8"/>
<text x="854.8" y="107.9" font-size="24.9">Yunyan87</text>
<line x1="267.50" y1="2018.9" x2="267.50" y2="2028.6" stroke="#000" stroke-width="1.75"/>
<text x="267.80" y="2063.5" font-size="25" text-anchor="middle">&lt;25%</text>
<line x1="447.00" y1="2018.9" x2="447.00" y2="2028.6" stroke="#000" stroke-width="1.75"/>
<text x="447.30" y="2063.5" font-size="25" text-anchor="middle">25%-50%</text>
<line x1="626.30" y1="2018.9" x2="626.30" y2="2028.6" stroke="#000" stroke-width="1.75"/>
<text x="626.60" y="2063.5" font-size="25" text-anchor="middle">50%-75%</text>
<line x1="805.85" y1="2018.9" x2="805.85" y2="2028.6" stroke="#000" stroke-width="1.75"/>
<text x="806.15" y="2063.5" font-size="25" text-anchor="middle">&gt;75%</text>
<text x="541.6" y="2114.7" font-size="35.4" text-anchor="middle">Brown Degree</text>
</svg>
</body></html>
